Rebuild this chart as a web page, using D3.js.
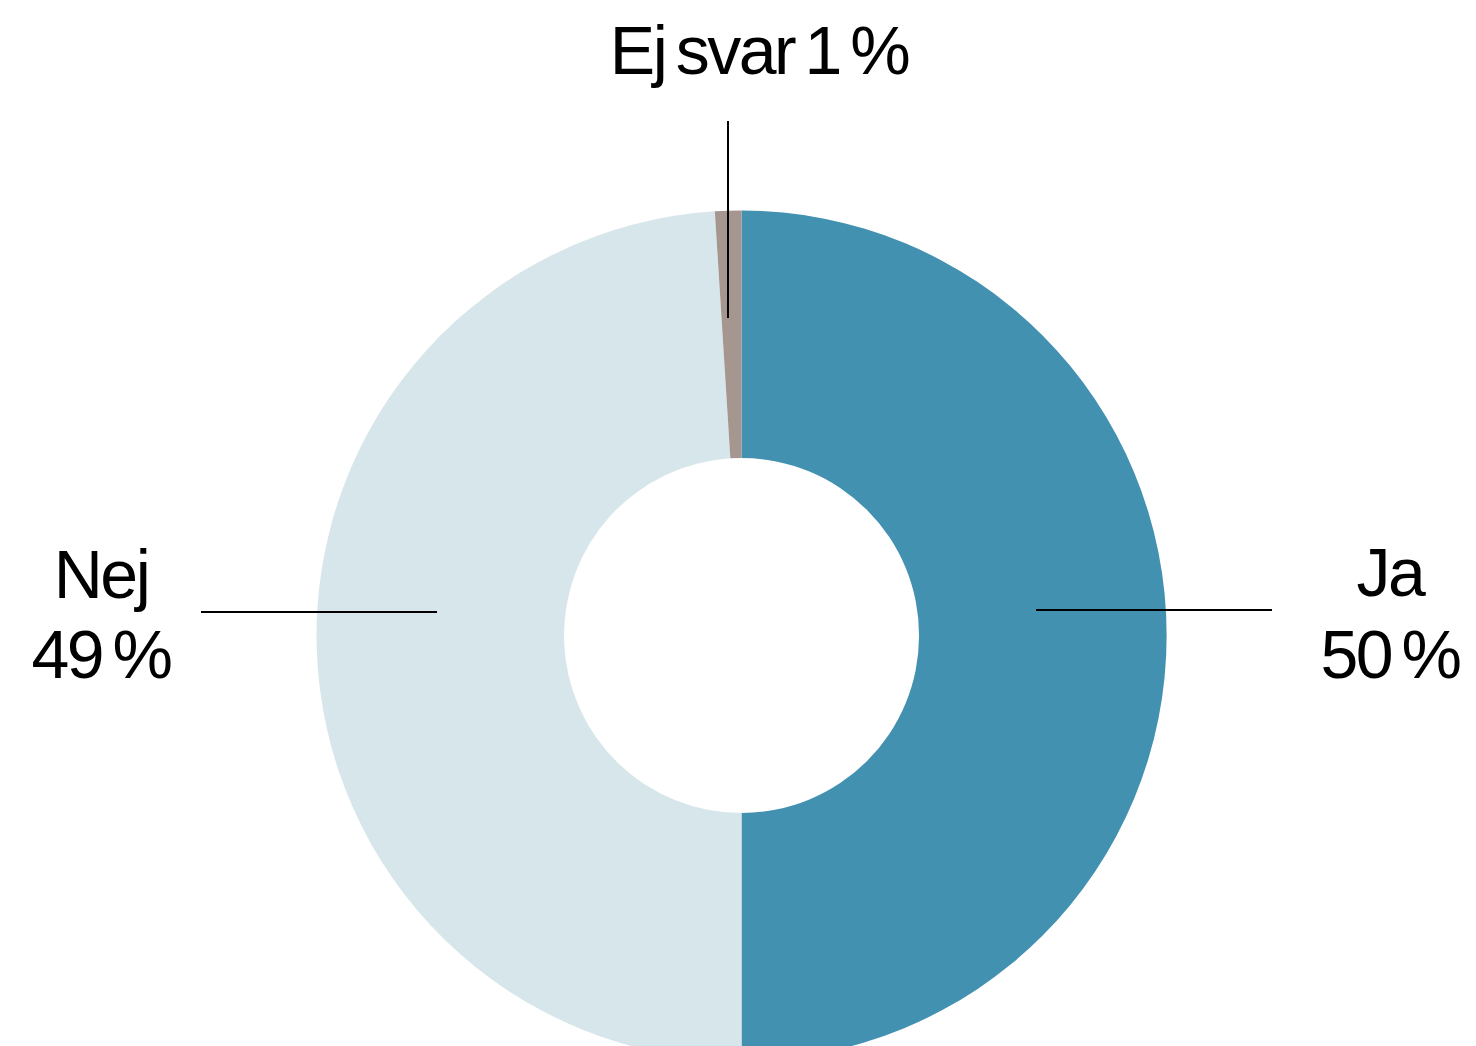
<!DOCTYPE html>
<html>
<head>
<meta charset="utf-8">
<script src="https://cdn.jsdelivr.net/npm/d3@7"></script>
<style>
  html, body { margin: 0; padding: 0; background: #fff; }
  svg text {
    font-family: "Liberation Sans", Arial, sans-serif;
    font-size: 68px;
    letter-spacing: -2.5px;
    word-spacing: -6px;
    fill: #000;
  }
</style>
</head>
<body>
<svg id="chart" width="1476" height="1046"></svg>
<script>
// data
const answers = ['Ja', 'Nej', 'Ej svar'];
const shares = [50, 49, 1];
const shareLabels = ['50 %', '49 %', '1 %'];
const sliceColors = ['#4391b0', '#d7e6eb', '#a59690'];

// layout
const cx = 741.5;
const cy = 635.5;
const outerR = 425;
const innerR = 177.5;

const svg = d3.select('#chart');
const g = svg.append('g').attr('transform', `translate(${cx},${cy})`);

const pie = d3.pie().sort(null).value(d => d);
const arc = d3.arc().innerRadius(innerR).outerRadius(outerR);
const arcs = pie(shares);

g.selectAll('path.slice')
  .data(arcs)
  .enter()
  .append('path')
  .attr('class', 'slice')
  .attr('d', arc)
  .attr('fill', (d, i) => sliceColors[i]);

// leader lines (drawn in page space so they land on whole pixels)
const midAngle = d => (d.startAngle + d.endAngle) / 2;
const ringMid = (innerR + outerR) / 2;
const ejX = Math.round(cx + outerR * Math.sin(midAngle(arcs[2])));

const leaders = [
  { x1: Math.round(cx + ringMid - 7), y1: 610, x2: Math.round(cx + outerR + 105), y2: 610 },
  { x1: Math.round(cx - ringMid - 3), y1: 612, x2: Math.round(cx - outerR - 116), y2: 612 },
  { x1: ejX, y1: 318, x2: ejX, y2: 121 }
];

svg.selectAll('line.leader')
  .data(leaders)
  .enter()
  .append('line')
  .attr('class', 'leader')
  .attr('x1', d => d.x1).attr('y1', d => d.y1)
  .attr('x2', d => d.x2).attr('y2', d => d.y2)
  .attr('stroke', '#000')
  .attr('stroke-width', 2);

const labelPos = [
  { x: 1390, y: 596, twoLines: true },
  { x: 101, y: 598, twoLines: true },
  { x: 759, y: 74, twoLines: false }
];

labelPos.forEach((p, i) => {
  const t = svg.append('text')
    .attr('text-anchor', 'middle')
    .attr('x', p.x)
    .attr('y', p.y);
  if (p.twoLines) {
    t.append('tspan').attr('x', p.x).text(answers[i]);
    t.append('tspan').attr('x', p.x).attr('y', 678).text(shareLabels[i]);
  } else {
    t.text(answers[i] + ' ' + shareLabels[i]);
  }
});
</script>
</body>
</html>
